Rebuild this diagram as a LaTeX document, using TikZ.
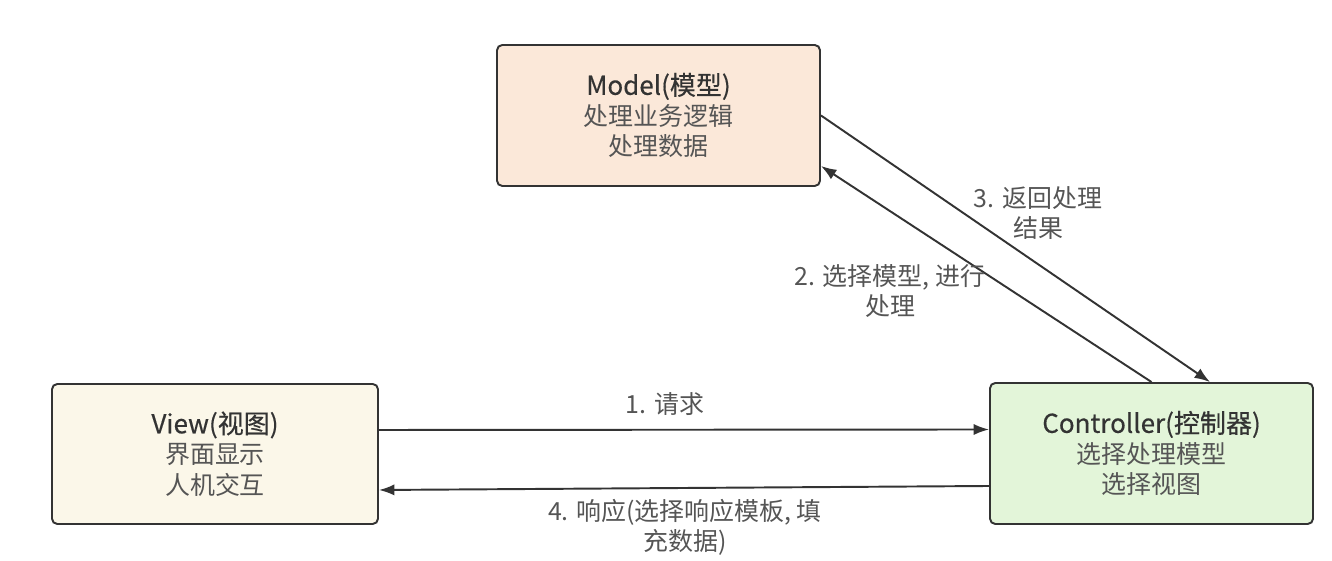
\documentclass[tikz,border=0pt]{standalone}
\usepackage{fontspec}
\setmainfont{Noto Sans CJK SC}
\usetikzlibrary{arrows.meta}
\definecolor{modelfill}{HTML}{FBE8D9}
\definecolor{viewfill}{HTML}{FBF7E9}
\definecolor{ctrlfill}{HTML}{E3F5D9}
\definecolor{edgegray}{HTML}{333333}
\definecolor{textgray}{HTML}{555555}
\tikzset{
  mvcbox/.style={draw=edgegray, line width=0.55pt, rounded corners=1.5pt,
    minimum width=3.23cm, minimum height=1.41cm, align=center,
    font=\fontsize{7.1pt}{8.7pt}\selectfont, text=textgray},
  flow/.style={->, draw=edgegray, line width=0.55pt},
  flowlabel/.style={align=center, text=textgray, font=\fontsize{7.1pt}{8.6pt}\selectfont}
}
\newcommand{\boxtitle}[1]{{\fontsize{7.4pt}{8.7pt}\selectfont\addfontfeature{FakeBold=0.4}\color{edgegray}#1}}
\begin{document}
\begin{tikzpicture}[>={Latex[length=4.4pt,width=3.2pt]}]
    \useasboundingbox (0,0) rectangle (13.32,5.61);

    % Boxes
    \node[mvcbox, fill=modelfill] (model) at (6.585,4.455)
        {\boxtitle{Model(模型)}\\处理业务逻辑\\处理数据};
    \node[mvcbox, fill=viewfill, minimum width=3.26cm, minimum height=1.40cm] (view) at (2.15,1.07)
        {\boxtitle{View(视图)}\\界面显示\\人机交互};
    \node[mvcbox, fill=ctrlfill] (ctrl) at (11.515,1.075)
        {\boxtitle{Controller(控制器)}\\选择处理模型\\选择视图};

    % Request and response
    \draw[flow] ([yshift=2.4mm]view.east) -- ([yshift=2.4mm]ctrl.west);
    \node[flowlabel] (req) at (6.65,1.57) {1. 请求};
    \draw[flow] ([yshift=-3.25mm]ctrl.west) -- ([yshift=-3.6mm]view.east);
    \node[flowlabel] (resp) at (6.85,0.34) {4. 响应(选择响应模板, 填\\充数据)};

    % Controller <-> Model
    \draw[flow] (ctrl.north) -- ([yshift=-5.05mm]model.east);
    \node[flowlabel] (pick) at (8.90,2.70) {2. 选择模型, 进行\\处理};
    \draw[flow] (model.east) -- ([xshift=5.85mm]ctrl.north);
    \node[flowlabel] (back) at (10.38,3.48) {3. 返回处理\\结果};
\end{tikzpicture}
\end{document}
